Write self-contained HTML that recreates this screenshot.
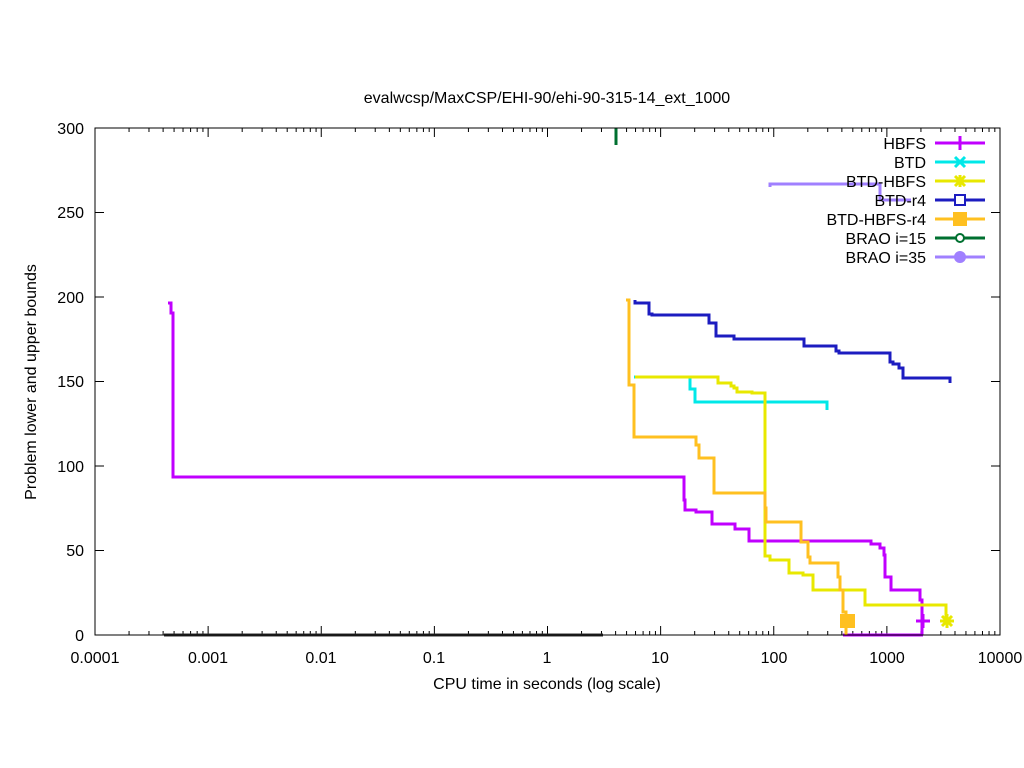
<!DOCTYPE html>
<html><head><meta charset="utf-8"><style>
html,body{margin:0;padding:0;background:#fff;}
svg{display:block;font-family:"Liberation Sans",sans-serif;}
</style></head><body>
<svg id="s" width="1024" height="768" viewBox="0 0 1024 768" xmlns="http://www.w3.org/2000/svg">
<rect width="1024" height="768" fill="#fff"/>
<text x="547" y="103" font-size="16" text-anchor="middle">evalwcsp/MaxCSP/EHI-90/ehi-90-315-14_ext_1000</text>
<g id="ticks" stroke="#000" stroke-width="1"></g>
<g font-size="16" text-anchor="end">
<text x="84" y="641">0</text><text x="84" y="556">50</text><text x="84" y="472">100</text>
<text x="84" y="387">150</text><text x="84" y="303">200</text><text x="84" y="218">250</text><text x="84" y="134">300</text>
</g>
<g font-size="16" text-anchor="middle">
<text x="95" y="663">0.0001</text><text x="208" y="663">0.001</text><text x="321" y="663">0.01</text>
<text x="434" y="663">0.1</text><text x="547" y="663">1</text><text x="660" y="663">10</text>
<text x="774" y="663">100</text><text x="887" y="663">1000</text><text x="1000" y="663">10000</text>
</g>
<text x="547" y="689" font-size="16" text-anchor="middle">CPU time in seconds (log scale)</text>
<text transform="translate(36,382) rotate(-90)" font-size="16" text-anchor="middle">Problem lower and upper bounds</text>
<g fill="none" stroke-width="3" stroke-linejoin="miter">
<polyline stroke="#c000ff" points="843,635 923,635"/>
<polyline stroke="#c000ff" points="168,303 171,303 171,313 173,313 173,477 684,477 684,500 685,500 685,510 696,510 696,512 712,512 712,524 735,524 735,529 749,529 749,541 871,541 871,544 880,544 880,548 884,548 884,555 885,555 885,577 891,577 891,590 920,590 920,600 922,600 922,635"/>
<polyline stroke="#00e8e8" points="634,377 690,377 690,389 695,389 695,402 827,402 827,410"/>
<polyline stroke="#e8e800" points="635,377 718,377 718,383 731,383 731,386 734,386 734,388 737,388 737,392 752,392 752,393 765,393 765,556 770,556 770,560 789,560 789,573 803,573 803,575 813,575 813,590 865,590 865,605 946,605 946,618"/>
<polyline stroke="#1c1cc0" points="635,300 635,303 649,303 649,314 652,314 652,315 709,315 709,323 716,323 716,336 734,336 734,339 804,339 804,346 836,346 836,351 839,351 839,353 890,353 890,362 893,362 893,364 899,364 899,368 903,368 903,378 950,378 950,383"/>
<polyline stroke="#ffc020" points="626,300 629,300 629,385 634,385 634,437 696,437 696,445 699,445 699,458 714,458 714,493 765,493 765,508 766,508 766,522 801,522 801,542 808,542 808,557 810,557 810,563 838,563 838,577 840,577 840,590 843,590 843,612 846,612 846,635"/>
<polyline stroke="#007030" points="616,128 616,145"/>
<polyline stroke="#a080ff" points="770,187 770,184 880,184 880,200 911,200"/>
<polyline stroke="#303030" points="164,635 603,635"/>
</g>
<g stroke-width="3">
<line x1="916" y1="621" x2="930" y2="621" stroke="#c000ff"/><line x1="923" y1="614" x2="923" y2="628" stroke="#c000ff"/>
<g stroke="#e8e800"><line x1="940" y1="621" x2="954" y2="621"/><line x1="947" y1="614" x2="947" y2="628"/><line x1="942" y1="616" x2="952" y2="626"/><line x1="942" y1="626" x2="952" y2="616"/></g>
</g>
<rect x="840" y="614" width="15" height="14" fill="#ffc020"/>
<g font-size="16" text-anchor="end">
<text x="926" y="149">HBFS</text><text x="926" y="168">BTD</text><text x="926" y="187">BTD-HBFS</text>
<text x="926" y="206">BTD-r4</text><text x="926" y="225">BTD-HBFS-r4</text><text x="926" y="244">BRAO i=15</text><text x="926" y="263">BRAO i=35</text>
</g>
<g stroke-width="3">
<line x1="935" y1="143" x2="985" y2="143" stroke="#c000ff"/><line x1="960" y1="136" x2="960" y2="150" stroke="#c000ff"/>
<line x1="935" y1="162" x2="985" y2="162" stroke="#00e8e8"/><line x1="955" y1="157" x2="965" y2="167" stroke="#00e8e8"/><line x1="955" y1="167" x2="965" y2="157" stroke="#00e8e8"/>
<line x1="935" y1="181" x2="985" y2="181" stroke="#e8e800"/><line x1="960" y1="175" x2="960" y2="187" stroke="#e8e800"/><line x1="955" y1="176" x2="965" y2="186" stroke="#e8e800"/><line x1="955" y1="186" x2="965" y2="176" stroke="#e8e800"/>
<line x1="935" y1="200" x2="985" y2="200" stroke="#1c1cc0"/><rect x="955" y="195" width="10" height="10" fill="#fff" stroke="#1c1cc0" stroke-width="2"/>
<line x1="935" y1="219" x2="985" y2="219" stroke="#ffc020"/><rect x="953" y="212" width="14" height="14" fill="#ffc020" stroke="none"/>
<line x1="935" y1="238" x2="985" y2="238" stroke="#007030"/><circle cx="960" cy="238" r="4" fill="#fff" stroke="#007030" stroke-width="2"/>
<line x1="935" y1="257" x2="985" y2="257" stroke="#a080ff"/><circle cx="960" cy="257" r="6" fill="#a080ff" stroke="none"/>
</g>
<rect x="95" y="128" width="905" height="507" fill="none" stroke="#000" stroke-width="1"/>
</svg>
<script>
var g=document.getElementById('ticks'),ns='http://www.w3.org/2000/svg';
function L(a,b,c,d){var l=document.createElementNS(ns,'line');l.setAttribute('x1',a);l.setAttribute('y1',b);l.setAttribute('x2',c);l.setAttribute('y2',d);g.appendChild(l);}
var dec=905/8;
for(var k=0;k<=8;k++){var x=95+k*dec;L(x,635,x,626);L(x,128,x,137);
 if(k<8)for(var m=2;m<10;m++){var xm=x+Math.log10(m)*dec;L(xm,635,xm,631);L(xm,128,xm,132);}}
for(var v=0;v<=300;v+=50){var y=635-v*507/300;L(95,y,104,y);L(1000,y,991,y);}
</script>
</body></html>
